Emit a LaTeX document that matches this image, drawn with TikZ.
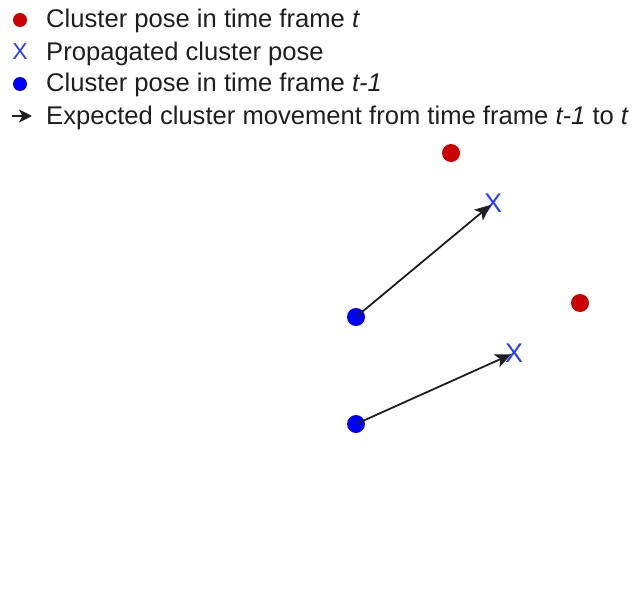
\documentclass[tikz,border=0pt]{standalone}
\usepackage{fontspec}
\setmainfont{Liberation Sans}
\usetikzlibrary{arrows.meta}
\definecolor{dotred}{RGB}{204,0,0}
\definecolor{dotblue}{RGB}{0,0,255}
\definecolor{xblue}{RGB}{40,60,255}
\tikzset{
  reddot/.style={circle,fill=dotred,inner sep=0pt,minimum size=#1},
  bluedot/.style={circle,fill=dotblue,inner sep=0pt,minimum size=#1},
  xmark/.style={inner sep=0pt,text=xblue,font=\fontsize{#1}{#1}\selectfont},
  legtext/.style={anchor=base west,inner sep=0pt,font=\fontsize{25.6}{25.6}\selectfont,text=black!88},
  movearrow/.style={-{Stealth[length=16pt,width=14pt,inset=4pt]},line width=1.8pt,black!88}
}
\begin{document}
\begin{tikzpicture}[x=1pt,y=-1pt]
\useasboundingbox (0,0) rectangle (634,610);
% legend
\node[reddot=14pt] (l1) at (20,20) {};
\node[legtext] (t1) at (46,28) {Cluster pose in time frame \textit{t}};
\node[xmark=23] (l2) at (20,52) {X};
\node[legtext] (t2) at (46,60) {Propagated cluster pose};
\node[bluedot=14pt] (l3) at (20,84) {};
\node[legtext] (t3) at (46,92) {Cluster pose in time frame \textit{t-1}};
\coordinate (a0) at (12,116);
\coordinate (a1) at (32,116);
\draw[movearrow,-{Stealth[length=13pt,width=13pt,inset=3.5pt]}] (a0) -- (a1);
\node[legtext] (t4) at (46,124) {Expected cluster movement from time frame \textit{t-1} to \textit{t}};
% plot
\node[reddot=18pt] (r1) at (451,153) {};
\node[reddot=18pt] (r2) at (580,303) {};
\node[xmark=27] (x1) at (493,203) {X};
\node[xmark=27] (x2) at (514,353) {X};
\node[bluedot=18pt] (b1) at (356,317) {};
\node[bluedot=18pt] (b2) at (356,424) {};
\draw[movearrow,shorten >=3pt] (b1.center) -- (x1.center);
\draw[movearrow,shorten >=3pt] (b2.center) -- (x2.center);
\end{tikzpicture}
\end{document}
